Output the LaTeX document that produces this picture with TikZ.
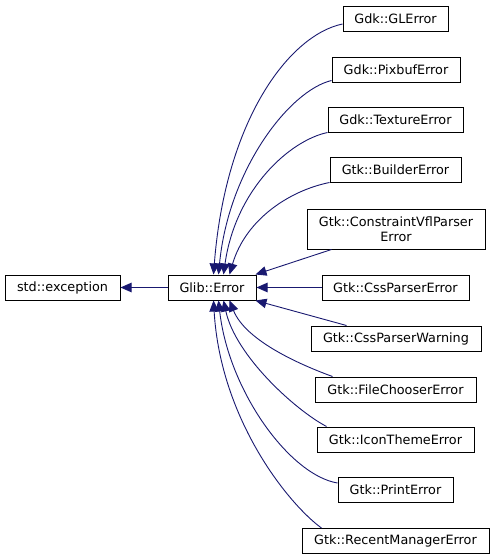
\documentclass[tikz,border=0pt]{standalone}
\usepackage{fontspec}
\setmainfont{DejaVu Sans}
\usetikzlibrary{arrows.meta, positioning}
\definecolor{edgeblue}{RGB}{25, 25, 112}

\begin{document}
\begin{tikzpicture}[
    x=1pt, y=-1pt,
    cls/.style={rectangle, draw=black, line width=1pt, minimum height=25pt, inner sep=0pt, align=center, font=\fontsize{12.8}{14.5}\selectfont},
    inh/.style={-{Triangle[length=11pt, width=9.5pt]}, line width=0.9pt, color=edgeblue}
]
    \useasboundingbox (0,0) rectangle (495,560);

    \node[cls, minimum width=115pt] (exc) at (62.5,287.5) {std::exception};
    \node[cls, minimum width=88pt, right=47pt of exc] (glib) {Glib::Error};

    \node[cls, minimum width=105pt] (glerr) at (395.5,18.5) {Gdk::GLError};
    \node[cls, minimum width=128pt] (pixbuf) at (396,69.5) {Gdk::PixbufError};
    \node[cls, minimum width=135pt] (texture) at (395.5,119.5) {Gdk::TextureError};
    \node[cls, minimum width=131pt] (builder) at (395.5,169.5) {Gtk::BuilderError};
    \node[cls, minimum width=178pt, minimum height=40pt] (vfl) at (396,229) {Gtk::ConstraintVflParser\\Error};
    \node[cls, minimum width=147pt] (csserr) at (395.5,287.5) {Gtk::CssParserError};
    \node[cls, minimum width=170pt] (csswarn) at (396,338.5) {Gtk::CssParserWarning};
    \node[cls, minimum width=161pt] (filech) at (395.5,389.5) {Gtk::FileChooserError};
    \node[cls, minimum width=157pt] (icon) at (395.5,439.5) {Gtk::IconThemeError};
    \node[cls, minimum width=115pt] (print) at (395.5,490) {Gtk::PrintError};
    \node[cls, minimum width=187pt] (recent) at (395.5,541) {Gtk::RecentManagerError};

    \draw[inh] (glib.west) -- (exc.east);

    % children above the base class
    \draw[inh] ([yshift=-5.5pt]glerr.west) .. controls +(-53,11) and +(12,-155) .. ([xshift=46pt]glib.north west);
    \draw[inh] ([yshift=2pt]pixbuf.south west) .. controls +(-42,10) and +(10,-105) .. ([xshift=51pt]glib.north west);
    \draw[inh] (texture.south west) .. controls +(-38,8) and +(12,-85) .. ([xshift=56pt]glib.north west);
    \draw[inh] (builder.south west) .. controls +(-40,8) and +(16,-55) .. ([xshift=62pt]glib.north west);
    \draw[inh] ([xshift=25pt]vfl.south west) -- ([xshift=-1pt]glib.north east);
    \draw[inh] (csserr.west) -- (glib.east);

    % children below the base class
    \draw[inh] ([xshift=36pt]csswarn.north west) -- ([xshift=-1pt]glib.south east);
    \draw[inh] ([xshift=18pt]filech.north west) .. controls +(-33,-12) and +(16,40) .. ([xshift=62pt]glib.south west);
    \draw[inh] ([xshift=10pt]icon.north west) .. controls +(-32,-17) and +(12,55) .. ([xshift=56pt]glib.south west);
    \draw[inh] ([yshift=7pt]print.west) .. controls +(-48,-8) and +(10,90) .. ([xshift=51pt]glib.south west);
    \draw[inh] ([xshift=20pt]recent.north west) .. controls +(-32,-23) and +(7,120) .. ([xshift=46pt]glib.south west);
\end{tikzpicture}
\end{document}
